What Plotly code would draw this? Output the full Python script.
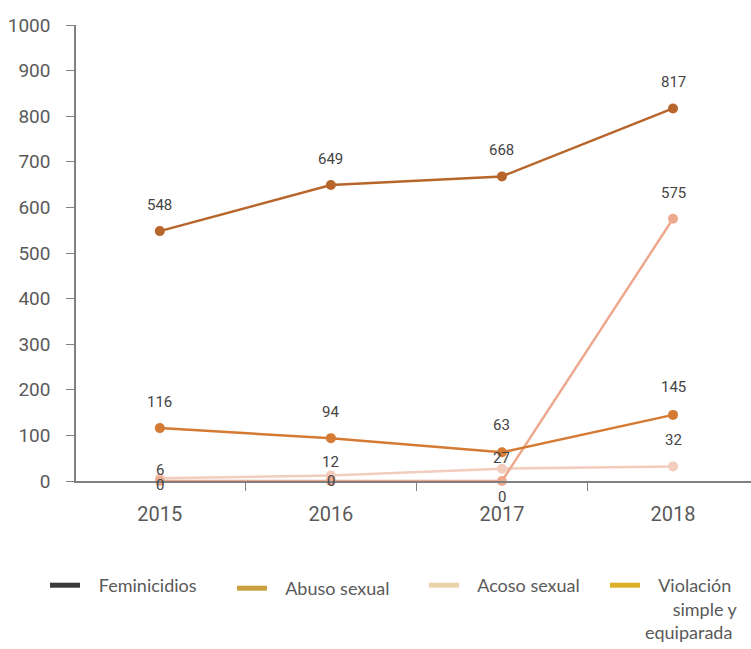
import plotly.graph_objects as go

years = ["2015", "2016", "2017", "2018"]
serie_marron = [548, 649, 668, 817]
serie_naranja = [116, 94, 63, 145]
serie_salmon = [0, 0, 0, 575]
serie_rosada = [6, 12, 27, 32]

NB = "\u00a0"
legend_names = [NB * 3 + "Feminicidios", NB * 3 + "Abuso sexual", NB * 3 + "Acoso sexual",
                NB * 3 + "Violación<br>" + NB * 6 + "simple y<br>equiparada"]
legend_colors = ["#3a3a3a", "#c9a13e", "#ead2a8", "#ddb02a"]

y_ticks = [0, 100, 200, 300, 400, 500, 600, 700, 800, 900, 1000]

NARROW = "Liberation Sans Narrow, Roboto, sans-serif"

series = [
    (serie_marron, "#b8652b", [26, 26, 26, 26]),
    (serie_naranja, "#d57a33", [26, 26, 27, 28]),
    (serie_salmon, "#eca98e", [-4, 0, -16, 26]),
    (serie_rosada, "#f2ccbd", [8, 14, 11, 26]),
]

fig = go.Figure()
annotations = []
for vals, color, shifts in series[::-1]:
    fig.add_trace(go.Scatter(
        x=years, y=vals, mode="lines+markers",
        line=dict(color=color, width=2.5),
        marker=dict(color=color, size=10),
        cliponaxis=False, showlegend=False, hoverinfo="skip"))
for vals, color, shifts in series:
    for i, (yv, s) in enumerate(zip(vals, shifts)):
        annotations.append(dict(
            x=i, y=yv, xref="x", yref="y", text=str(yv), showarrow=False,
            yshift=s, xanchor="center", yanchor="middle",
            font=dict(family=NARROW, size=15, color="#444444")))

legend_ids = ["legend", "legend2", "legend3", "legend4"]
legend_left_px = [45, 232, 424, 605]
legend_top_px = [567, 570, 567, 567]
for name, color, lid in zip(legend_names, legend_colors, legend_ids):
    fig.add_trace(go.Scatter(
        x=[None], y=[None], mode="lines", name=name,
        line=dict(color=color, width=5), legend=lid))

legend_layout = {}
for lid, lx, ly in zip(legend_ids, legend_left_px, legend_top_px):
    legend_layout[lid] = dict(
        orientation="h", xref="container", yref="container",
        x=lx / 751, xanchor="left", y=1 - ly / 649, yanchor="top",
        valign="top", bgcolor="rgba(0,0,0,0)",
        font=dict(family="Lato, sans-serif", size=18, color="#5a5a5a"))

fig.update_layout(
    width=751, height=649,
    margin=dict(l=76, r=0, t=25, b=168, autoexpand=False),
    paper_bgcolor="white", plot_bgcolor="white",
    showlegend=True,
    annotations=annotations,
    **legend_layout,
)
fig.update_xaxes(
    type="category", range=[-0.49, 3.456],
    showline=True, linecolor="#808080", linewidth=1.5,
    showgrid=False, zeroline=False,
    ticks="outside", tickson="boundaries", ticklen=8, tickcolor="#808080",
    tickfont=dict(family=NARROW, size=20, color="#5a5a5a"),
    ticklabelstandoff=14,
)
fig.update_yaxes(
    range=[0, 1000], tickvals=y_ticks, ticktext=[str(v) for v in y_ticks],
    showline=True, linecolor="#808080", linewidth=1.5,
    showgrid=False, zeroline=False,
    ticks="outside", ticklen=8, tickcolor="#808080",
    tickfont=dict(family=NARROW, size=19, color="#5a5a5a"),
    ticklabelstandoff=12,
)

fig.write_html("out.html")
